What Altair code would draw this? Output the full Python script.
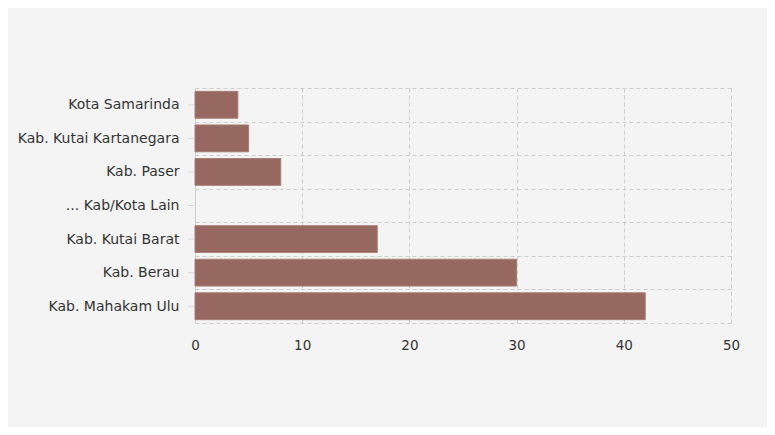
import altair as alt
import pandas as pd

categories = ["Kota Samarinda", "Kab. Kutai Kartanegara", "Kab. Paser", "... Kab/Kota Lain",
              "Kab. Kutai Barat", "Kab. Berau", "Kab. Mahakam Ulu"]
values = [4, 5, 8, 0, 17, 30, 42]
x_ticks = [0, 10, 20, 30, 40, 50]

df = pd.DataFrame({"cat": categories, "val": values})

base = alt.Chart(df)

y_enc = alt.Y("cat:N", sort=categories,
              scale=alt.Scale(paddingInner=0, paddingOuter=0),
              axis=alt.Axis(title=None, grid=True, tickBand="extent", gridDash=[4, 3],
                            gridColor="#cccccc", domain=True, domainColor="#cccccc",
                            ticks=False, labelPadding=16, labelFontSize=14,
                            labelColor="#333333", labelFont="DejaVu Sans"))

bars = base.mark_bar(
    color="#976860", stroke="#a87f77", strokeWidth=1, opacity=1,
    height=alt.RelativeBandSize(0.8)
).encode(
    x=alt.X("val:Q", scale=alt.Scale(domain=[0, 50], nice=False),
            axis=alt.Axis(values=x_ticks, title=None, grid=True, gridDash=[4, 3],
                          gridColor="#cccccc", domain=False, ticks=False, labelFlush=False,
                          labelPadding=15, labelFontSize=13.5, labelColor="#333333",
                          labelFont="DejaVu Sans")),
    y=y_enc,
    strokeOpacity=alt.condition(alt.datum.val > 0, alt.value(1), alt.value(0)),
)

ticks = base.mark_rule(color="#d6d6d6", strokeWidth=1).encode(
    x=alt.value(-7), x2=alt.value(-1), y=y_enc
)

chart = alt.layer(ticks, bars).properties(
    width=536, height=235,
    background="#f4f4f4",
    padding={"left": 187, "top": 80, "right": 36, "bottom": 104},
    autosize=alt.AutoSizeParams(type="none"),
).configure_view(stroke=None)

chart.save("out.html", embed_options={"renderer": "svg", "actions": False})
